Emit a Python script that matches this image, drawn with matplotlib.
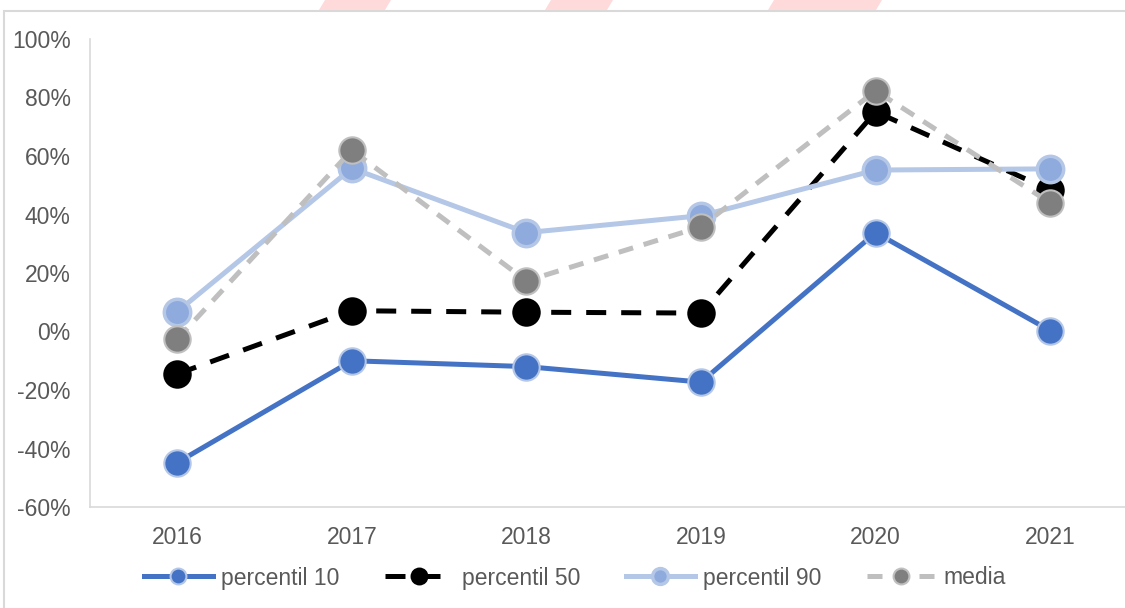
import matplotlib
matplotlib.use("Agg")
import matplotlib.pyplot as plt
from matplotlib.patches import Rectangle, Polygon
from matplotlib.ticker import PercentFormatter

# ------------------------------------------------------------
# Data (in percent)
# ------------------------------------------------------------
years = ["2016", "2017", "2018", "2019", "2020", "2021"]
p10 = [-44.8, -10.0, -12.0, -17.3, 33.8, 0.3]
p50 = [-14.5, 7.1, 6.6, 6.3, 75.1, 48.4]
p90 = [6.8, 55.8, 33.8, 39.6, 55.2, 55.6]
media = [-2.6, 62.0, 17.3, 35.8, 82.3, 44.0]

labels = ["percentil 10", "percentil 50", "percentil 90", "media"]

TEXT = "#595959"
GRID = "#D9D9D9"

plt.rcParams["font.family"] = ["Liberation Sans", "DejaVu Sans"]
plt.rcParams["axes.unicode_minus"] = False

fig = plt.figure(figsize=(11.25, 6.08), dpi=100)

# axes placed in pixel terms of the 1125x608 picture
ax = fig.add_axes([90 / 1125, 1 - 507 / 608, (1137.5 - 90) / 1125, (507 - 39) / 608])

x = range(len(years))
ms = 19
lw = 3.6

# percentil 10
ax.plot(x, p10, color="#4472C4", lw=lw, marker="o", ms=ms,
        mfc="#4472C4", mec="#B4C7E7", mew=1.5, label=labels[0], zorder=3)
# percentil 50
ax.plot(x, p50, color="black", lw=lw, dashes=(4, 3), marker="o", ms=ms,
        mfc="black", mec="black", mew=1.5, label=labels[1], zorder=4)
# percentil 90
ax.plot(x, p90, color="#B4C7E7", lw=lw, marker="o", ms=ms,
        mfc="#8FAADC", mec="#B4C7E7", mew=2.5, label=labels[2], zorder=5)
# media
ax.plot(x, media, color="#BFBFBF", lw=lw, dashes=(3, 2.2), marker="o", ms=ms,
        mfc="#7F7F7F", mec="#BFBFBF", mew=1.5, label=labels[3], zorder=6)

ax.set_xlim(-0.5, len(years) - 0.5)
ax.set_ylim(-60, 100)
ax.set_yticks(range(-60, 101, 20))
ax.yaxis.set_major_formatter(PercentFormatter(decimals=0))
ax.set_xticks(list(x))
ax.set_xticklabels(years)

for s in ["top", "right"]:
    ax.spines[s].set_visible(False)
ax.spines["left"].set_color(GRID)
ax.spines["bottom"].set_color(GRID)
ax.spines["left"].set_linewidth(1.2)
ax.spines["bottom"].set_linewidth(1.2)
ax.tick_params(axis="both", length=0, labelsize=16.5, colors=TEXT)
ax.tick_params(axis="y", pad=14)
ax.tick_params(axis="x", pad=14)

leg = fig.legend(loc="center", bbox_to_anchor=(575 / 1125, 1 - 578 / 608),
                 ncol=4, frameon=False, fontsize=16.5, handlelength=3.0,
                 handletextpad=0.35, columnspacing=2.0, markerscale=0.6)
for t in leg.get_texts():
    t.set_color(TEXT)

# outer chart-area frame
fig.patches.append(Rectangle((3.5 / 1125, -0.1), 1.2, 1 - 11 / 608 + 0.1,
                             transform=fig.transFigure, fill=False,
                             edgecolor=GRID, lw=1.5))

# pink fragments at the very top (cropped watermark)
for x0, x1 in [(319, 391), (545, 613), (768, 882)]:
    pts = [(x0 / 1125, 1 - 10 / 608), ((x0 + 6) / 1125, 1.0),
           (x1 / 1125, 1.0), ((x1 - 6) / 1125, 1 - 10 / 608)]
    fig.patches.append(Polygon(pts, closed=True, transform=fig.transFigure,
                               facecolor="#FFDADA", edgecolor="none"))

fig.savefig("out.png", dpi=100)
